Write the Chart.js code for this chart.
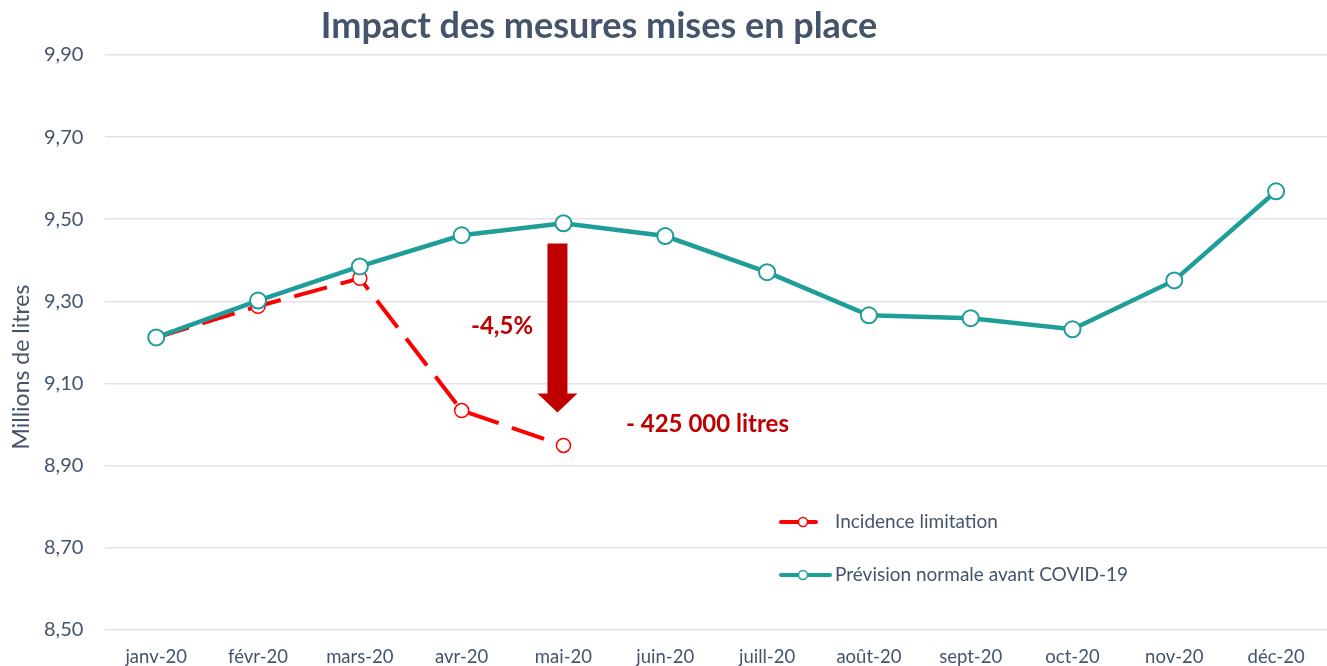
<!DOCTYPE html>
<html>
<head>
<meta charset="utf-8">
<script src="https://cdn.jsdelivr.net/npm/chart.js@4"></script>
<style>
  html, body { margin: 0; padding: 0; background: #fff; overflow: hidden; }
  #wrap { width: 1337px; height: 676px; }
</style>
</head>
<body>
<div id="wrap"><canvas id="c"></canvas></div>
<script>
/* ── Données ─────────────────────────────────────────────── */
const mois      = ['janv-20','févr-20','mars-20','avr-20','mai-20','juin-20','juill-20','août-20','sept-20','oct-20','nov-20','déc-20'];
const prevision = [9.212, 9.302, 9.385, 9.461, 9.490, 9.459, 9.371, 9.266, 9.259, 9.232, 9.351, 9.568];
const incidence = [9.212, 9.288, 9.356, 9.034, 8.949, null, null, null, null, null, null, null];
const yTicks    = [8.5, 8.7, 8.9, 9.1, 9.3, 9.5, 9.7, 9.9];

const TXT   = '#44546a';
const TEAL  = '#1f9e99';
const RED   = '#ff0000';
const DARK  = '#c00000';
const FONT  = 'Lato, "Open Sans", sans-serif';

/* ── Titre, axe Y, flèche, annotations, légende ──────────── */
const extras = {
  id: 'extras',
  afterDraw(chart) {
    const { ctx, scales: { x, y } } = chart;
    ctx.save();

    // titre
    ctx.fillStyle = TXT;
    ctx.font = `bold 36px ${FONT}`;
    ctx.textAlign = 'center';
    ctx.textBaseline = 'middle';
    ctx.fillText('Impact des mesures mises en place', 599, 26);

    // titre de l'axe Y
    ctx.save();
    ctx.translate(22, 367);
    ctx.rotate(-Math.PI / 2);
    ctx.font = `23px ${FONT}`;
    ctx.fillText('Millions de litres', 0, 0);
    ctx.restore();

    // flèche -4,5%
    const ax = x.getPixelForValue(4) - 6;
    const yTop = y.getPixelForValue(9.441), yBot = y.getPixelForValue(9.029);
    ctx.fillStyle = DARK;
    ctx.beginPath();
    ctx.moveTo(ax - 10, yTop);
    ctx.lineTo(ax + 10, yTop);
    ctx.lineTo(ax + 10, yBot - 19);
    ctx.lineTo(ax + 20, yBot - 19);
    ctx.lineTo(ax, yBot);
    ctx.lineTo(ax - 20, yBot - 19);
    ctx.lineTo(ax - 10, yBot - 19);
    ctx.closePath();
    ctx.fill();

    ctx.font = `bold 24px ${FONT}`;
    ctx.textAlign = 'left';
    ctx.fillText('-4,5%', 471, 326);
    ctx.fillText('- 425 000 litres', 626, 424);

    // légende
    const items = [
      { label: chart.data.datasets[0].label, color: RED,  dash: true,  y: 522 },
      { label: chart.data.datasets[1].label, color: TEAL, dash: false, y: 575 },
    ];
    ctx.font = `19px ${FONT}`;
    ctx.textBaseline = 'middle';
    items.forEach(it => {
      ctx.strokeStyle = it.color;
      ctx.lineWidth = 4;
      ctx.lineCap = 'round';
      ctx.beginPath();
      ctx.moveTo(781, it.y); ctx.lineTo(it.dash ? 816 : 830, it.y);
      ctx.stroke();
      ctx.beginPath();
      ctx.arc(803, it.y, 4.5, 0, Math.PI * 2);
      ctx.fillStyle = '#fff';
      ctx.fill();
      ctx.lineWidth = 1.5;
      ctx.stroke();
      ctx.fillStyle = TXT;
      ctx.fillText(it.label, 835, it.y);
    });
    ctx.restore();
  }
};

new Chart(document.getElementById('c'), {
  type: 'line',
  data: {
    labels: mois,
    datasets: [
      {
        label: 'Incidence limitation',
        data: incidence,
        borderColor: RED,
        borderWidth: 4,
        borderDash: [34, 14],
        pointRadius: 7,
        pointBorderWidth: 1.5,
        pointBackgroundColor: '#fff',
        pointBorderColor: RED,
        tension: 0,
        spanGaps: false,
        order: 2,
      },
      {
        label: 'Prévision normale avant COVID-19',
        data: prevision,
        borderColor: TEAL,
        borderWidth: 4.5,
        pointRadius: 8,
        pointBorderWidth: 2,
        pointBackgroundColor: '#fff',
        pointBorderColor: TEAL,
        tension: 0,
        order: 1,
      },
    ],
  },
  options: {
    responsive: true,
    maintainAspectRatio: false,
    animation: false,
    layout: { padding: { top: 55, left: 22, right: 0, bottom: 0 } },
    plugins: {
      legend: { display: false },
      tooltip: { enabled: false },
    },
    scales: {
      x: {
        offset: true,
        grid: { display: false },
        border: { display: false },
        ticks: { color: TXT, font: { family: FONT, size: 18.5 }, padding: 8, maxRotation: 0 },
      },
      y: {
        min: 8.5,
        max: 9.9,
        afterBuildTicks: ax => { ax.ticks = yTicks.map(v => ({ value: v })); },
        grid: { color: '#dfe3ea', lineWidth: 1.5, drawTicks: false },
        border: { display: false },
        ticks: {
          color: TXT,
          font: { family: FONT, size: 20 },
          padding: 22,
          callback: v => v.toFixed(2).replace('.', ','),
        },
      },
    },
  },
  plugins: [extras],
});
</script>
</body>
</html>
